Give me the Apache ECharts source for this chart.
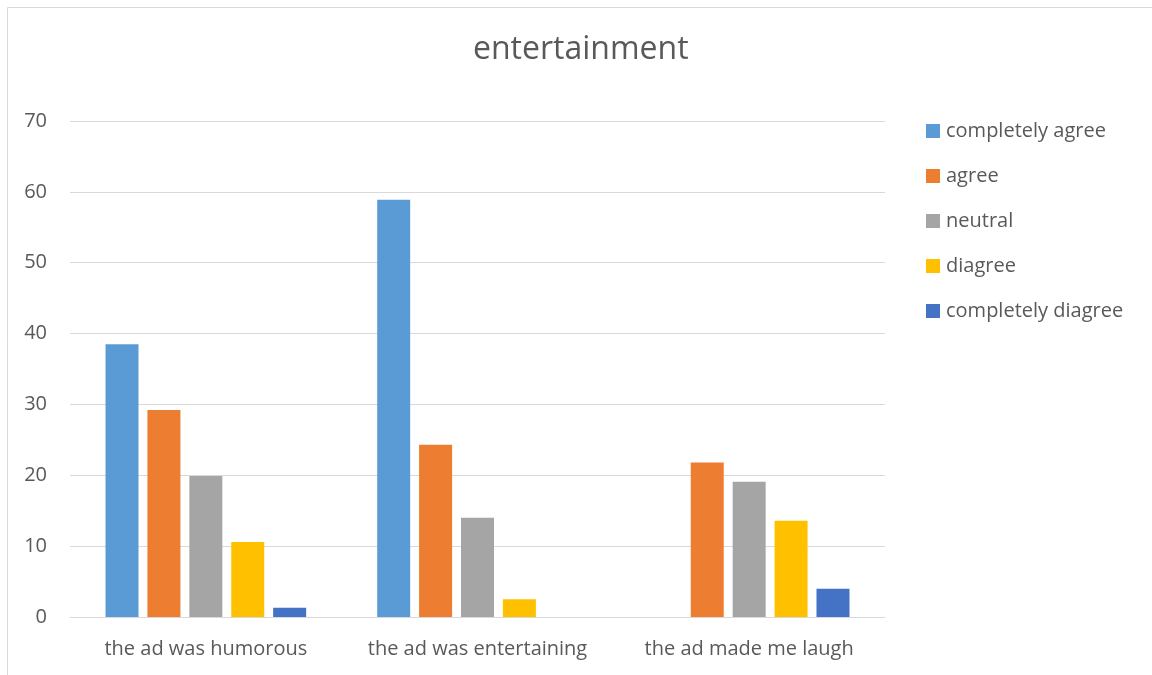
<!DOCTYPE html>
<html>
<head>
<meta charset="utf-8">
<script src="https://cdn.jsdelivr.net/npm/echarts@6/dist/echarts.min.js"></script>
<style>
  html, body { margin: 0; padding: 0; background: #fff; }
  #chart { width: 1152px; height: 675px; }
</style>
</head>
<body>
<div id="chart"></div>
<script>
const categories = ['the ad was humorous', 'the ad was entertaining', 'the ad made me laugh'];
const seriesNames = ['completely agree', 'agree', 'neutral', 'diagree', 'completely diagree'];
const completelyAgree = [38.5, 58.9, 0];
const agree = [29.2, 24.3, 21.8];
const neutral = [19.9, 14.0, 19.1];
const diagree = [10.6, 2.5, 13.6];
const completelyDiagree = [1.3, 0, 4.0];
const colors = ['#5B9BD5', '#ED7D31', '#A5A5A5', '#FFC000', '#4472C4'];

const values = [completelyAgree, agree, neutral, diagree, completelyDiagree];
const font = 'Open Sans';
const textColor = '#595959';

const chart = echarts.init(document.getElementById('chart'));
chart.setOption({
  animation: false,
  color: colors,
  title: {
    text: 'entertainment',
    left: 468,
    top: 29,
    textStyle: { fontFamily: font, fontSize: 32, fontWeight: 'normal', color: textColor }
  },
  graphic: [{
    type: 'rect',
    shape: { x: 7.5, y: 7.5, width: 1170, height: 700 },
    style: { fill: 'none', stroke: '#d9d9d9', lineWidth: 1 },
    silent: true
  }],
  legend: {
    orient: 'vertical',
    left: 921,
    top: 116,
    itemWidth: 14,
    itemHeight: 14,
    itemGap: 25,
    icon: 'rect',
    textStyle: { fontFamily: font, fontSize: 20, color: textColor, padding: [0, 0, 0, 1] },
    data: seriesNames
  },
  grid: { left: 70, right: 267, top: 121, bottom: 58 },
  xAxis: {
    type: 'category',
    data: categories,
    axisTick: { show: false },
    axisLine: { lineStyle: { color: '#d9d9d9' } },
    axisLabel: { fontFamily: font, fontSize: 20, color: textColor, margin: 22, interval: 0 }
  },
  yAxis: {
    type: 'value',
    min: 0,
    max: 70,
    interval: 10,
    axisLine: { show: false },
    axisTick: { show: false },
    splitLine: { lineStyle: { color: '#d9d9d9' } },
    axisLabel: { fontFamily: font, fontSize: 20, color: textColor, margin: 23 }
  },
  series: seriesNames.map((name, i) => ({
    name: name,
    type: 'bar',
    data: values[i],
    barWidth: 33,
    barGap: '27%'
  }))
});
</script>
</body>
</html>
